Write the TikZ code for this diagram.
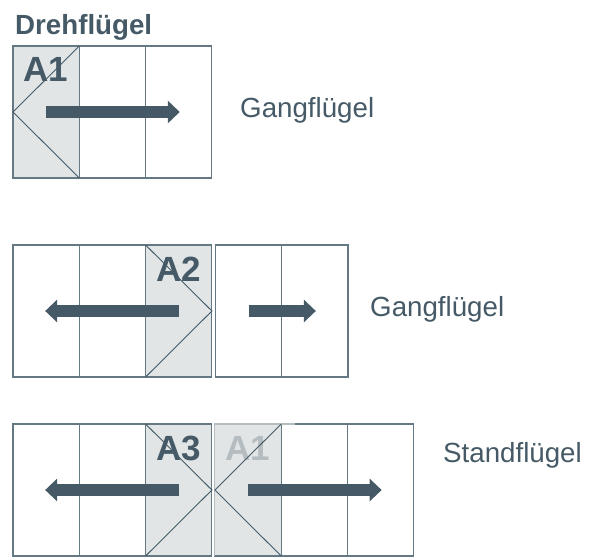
\documentclass[tikz,border=0pt]{standalone}
\usepackage{fontspec}
\setmainfont{Liberation Sans}
\usetikzlibrary{arrows.meta}
\usetikzlibrary{positioning}
\definecolor{wingdark}{HTML}{455A66}
\definecolor{wingline}{HTML}{647984}
\definecolor{wingfill}{HTML}{E1E5E6}
\definecolor{wingghost}{HTML}{B5BDC1}
\tikzset{wing-panel/.style={draw=wingline, line width=1.1pt, inner sep=0, outer sep=0, minimum width=66.3pt, minimum height=132pt}}
\tikzset{wing-active/.style={wing-panel, fill=wingfill}}
\tikzset{wing-swing/.style={draw=wingdark, line width=0.9pt}}
\tikzset{wing-arrow/.style={draw=wingdark, line width=11.5pt, -{Triangle[length=12pt, width=22pt]}, shorten >=-1pt}}
\tikzset{wing-label/.style={inner sep=0, anchor=base west, text=wingdark, font=\fontsize{27.7}{30}\selectfont}}
\tikzset{wing-code/.style={inner sep=0, anchor=base west, text=wingdark, font=\fontsize{35}{38}\selectfont\bfseries}}
\begin{document}
\begin{tikzpicture}[x=1pt, y=1pt]
            \useasboundingbox (0,0) rectangle (589,-557);

            \node[wing-label, font=\fontsize{27.7}{30}\selectfont\bfseries] (title) at (15,-34) {Drehflügel};

            % first row
            \node[wing-active, anchor=north west] (p1) at (13,-46) {};
            \node[wing-panel, right=0pt of p1] (p2) {};
            \node[wing-panel, right=0pt of p2] (p3) {};
            \node[wing-code] (codeA1) at (23,-81) {A1};
            \draw[wing-swing] (p1.north east) -- (p1.west) -- (p1.south east);
            \draw[wing-arrow] (p1.center) -- (p3.center);
            \node[wing-label] (gang1) at (240,-117) {Gangflügel};

            % second row
            \node[wing-panel, anchor=north west] (q1) at (13,-245) {};
            \node[wing-panel, right=0pt of q1] (q2) {};
            \node[wing-active, right=0pt of q2] (q3) {};
            \node[wing-panel, right=3.5pt of q3] (q4) {};
            \node[wing-panel, right=0pt of q4] (q5) {};
            \node[wing-code] (codeA2) at (156,-281) {A2};
            \draw[wing-swing] (q3.north west) -- (q3.east) -- (q3.south west);
            \draw[wing-arrow] (q3.center) -- (q1.center);
            \draw[wing-arrow] (q4.center) -- (q5.center);
            \node[wing-label] (gang2) at (370,-316) {Gangflügel};

            % third row
            \node[wing-panel, anchor=north west] (r1) at (13,-424) {};
            \node[wing-panel, right=0pt of r1] (r2) {};
            \node[wing-active, right=0pt of r2] (r3) {};
            \node[wing-active, right=3pt of r3] (r4) {};
            \node[wing-panel, right=0pt of r4] (r5) {};
            \node[wing-panel, right=0pt of r5] (r6) {};
            \draw[draw=wingghost, line width=1.1pt] (r4.south west) -- (r4.north west) -- ([xshift=14pt]r4.north east);
            \node[wing-code] (codeA3) at (156,-460) {A3};
            \node[wing-code, text=wingghost] (codeA1b) at (225,-460) {A1};
            \draw[wing-swing] (r3.north west) -- (r3.east) -- (r3.south west);
            \draw[wing-swing] (r4.north east) -- (r4.west) -- (r4.south east);
            \draw[wing-arrow] (r3.center) -- (r1.center);
            \draw[wing-arrow] (r4.center) -- (r6.center);
            \node[wing-label] (stand) at (443,-462) {Standflügel};

        \end{tikzpicture}
\end{document}
